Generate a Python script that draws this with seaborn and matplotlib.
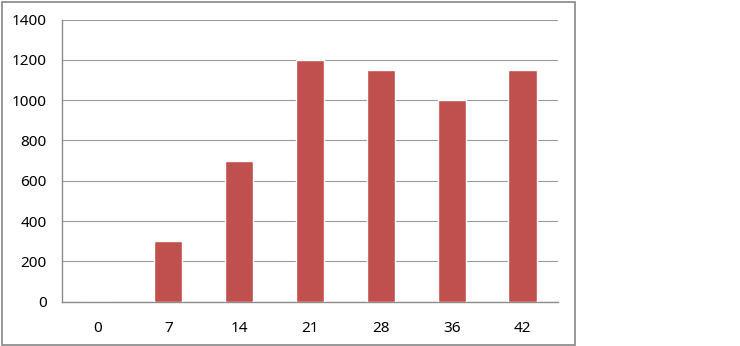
import matplotlib
matplotlib.use("Agg")
import matplotlib.pyplot as plt
import seaborn as sns
import pandas as pd
from matplotlib.patches import Rectangle
from matplotlib.ticker import FixedLocator

categories = ["0", "7", "14", "21", "28", "36", "42"]
values = [0, 300, 700, 1200, 1150, 1000, 1150]
yticks = [0, 200, 400, 600, 800, 1000, 1200, 1400]

sns.set_style("white")
plt.rcParams['font.family'] = ['Noto Sans', 'DejaVu Sans']

W, H = 740, 346
fig = plt.figure(figsize=(W / 100, H / 100), dpi=100)
ax = fig.add_axes([62 / W, 1 - 301.7 / H, (558 - 62) / W, (301.7 - 19.5) / H])

df = pd.DataFrame({"cat": categories, "val": values})
sns.barplot(data=df, x="cat", y="val", order=categories, color="#C0504D",
            saturation=1, width=0.4, ax=ax, zorder=3)

ax.set_xlim(-0.5, len(categories) - 0.5)
ax.set_ylim(0, 1400)
ax.set_yticks(yticks)
ax.set_yticklabels([str(v) for v in yticks])
ax.set_xlabel("")
ax.set_ylabel("")

axis_col = "#8C8C8C"
for s in ["top", "right"]:
    ax.spines[s].set_visible(False)
for s in ["left", "bottom"]:
    ax.spines[s].set_color(axis_col)
    ax.spines[s].set_linewidth(1)

ax.yaxis.grid(True, color="#9A9A9A", linewidth=0.8, zorder=0)
ax.set_axisbelow(True)

ax.tick_params(axis="x", which="major", length=0, pad=14, labelsize=11, colors="black")
ax.xaxis.set_minor_locator(FixedLocator([i - 0.5 for i in range(len(categories) + 1)]))
ax.tick_params(axis="x", which="minor", length=5, width=1, color=axis_col, direction="out")
ax.tick_params(axis="y", length=5, width=1, color=axis_col, direction="out", pad=6,
               labelsize=11, labelcolor="black")

fig.patches.append(Rectangle((1.5 / W, 1 - 345 / H), (575 - 1.5) / W, (345 - 1.5) / H,
                             transform=fig.transFigure, fill=False,
                             edgecolor="#868686", linewidth=1.2))

fig.savefig("out.png", dpi=100)
